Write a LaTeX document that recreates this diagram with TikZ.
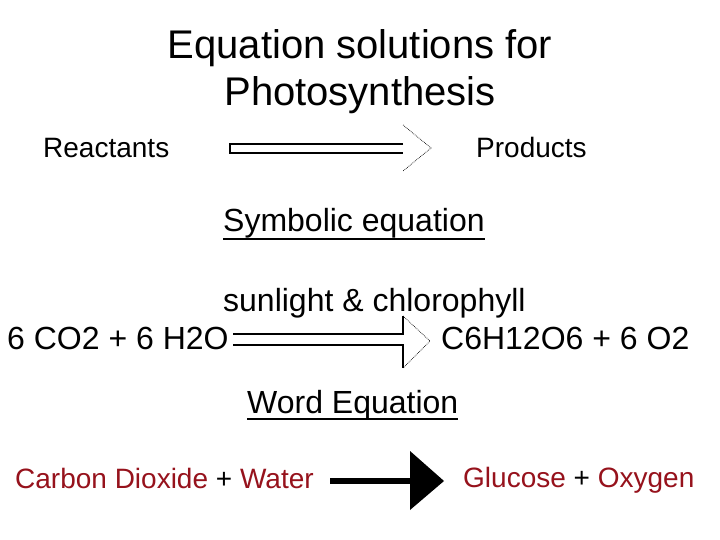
\documentclass[tikz,border=0pt]{standalone}
\usepackage{fontspec}
\setmainfont{Liberation Sans}

\definecolor{wordred}{RGB}{150,18,28}

\tikzset{
    titletxt/.style={font=\fontsize{40}{48}\selectfont, inner sep=0pt},
    eqtxt/.style={font=\fontsize{32}{38}\selectfont, inner sep=0pt},
    smalltxt/.style={font=\fontsize{28}{34}\selectfont, inner sep=0pt},
    uline/.style={line width=2.4pt},
    shaftline/.style={line width=1.3pt},
    headline/.style={line width=0.7pt, densely dotted},
}

\begin{document}
\begin{tikzpicture}[x=1pt,y=-1pt]
    \useasboundingbox[fill=white] (0,0) rectangle (720,540);

    % title
    \node[titletxt, anchor=base] (title1) at (360,59) {Equation solutions for};
    \node[titletxt, anchor=base] (title2) at (360,106) {Photosynthesis};

    % reactants -> products
    \node[smalltxt, anchor=base west] (react) at (43,158) {Reactants};
    \node[smalltxt, anchor=base west] (prod) at (476,158) {Products};
    \coordinate (a1) at (230,144);
    \coordinate (a1end) at (403,153);
    \coordinate (a1tip) at (431,148);
    \draw[shaftline] (a1end |- a1) -- (a1) -- (a1 |- a1end) -- (a1end);
    \draw[headline] (403,125) -- (a1tip) -- (403,171);

    % symbolic equation
    \node[eqtxt, anchor=base west] (symb) at (223,232) {Symbolic equation};
    \draw[uline] ([yshift=-7pt]symb.base west) -- ([yshift=-7pt]symb.base east);

    \node[eqtxt, anchor=base west] (light) at (223,311) {sunlight \& chlorophyll};
    \node[eqtxt, anchor=base west] (lhs) at (7,349) {6 CO2 + 6 H2O};
    \node[eqtxt, anchor=base west] (rhs) at (441,349) {C6H12O6 + 6 O2};
    \coordinate (a2) at (233,334);
    \coordinate (a2end) at (403,345);
    \coordinate (a2tip) at (430,341);
    \draw[shaftline] (a2) -- (a2 -| a2end) -- (403,316);
    \draw[shaftline] (a2 |- a2end) -- (a2end) -- (403,368);
    \draw[headline] (403,316) -- (a2tip) -- (403,368);

    % word equation
    \node[eqtxt, anchor=base west] (word) at (247,413) {Word Equation};
    \draw[uline] ([yshift=-6pt]word.base west) -- ([yshift=-6pt]word.base east);

    \node[smalltxt, anchor=base west] (words1) at (15,488)
        {\textcolor{wordred}{Carbon Dioxide} + \textcolor{wordred}{Water}};
    \node[smalltxt, anchor=base west] (words2) at (463,487)
        {\textcolor{wordred}{Glucose} + \textcolor{wordred}{Oxygen}};
    \coordinate (a3) at (330,478);
    \coordinate (a3tip) at (444,481);
    \fill[black] (a3) rectangle (414,484);
    \fill[black] (410,451) -- (a3tip) -- (410,510) -- cycle;
\end{tikzpicture}
\end{document}
